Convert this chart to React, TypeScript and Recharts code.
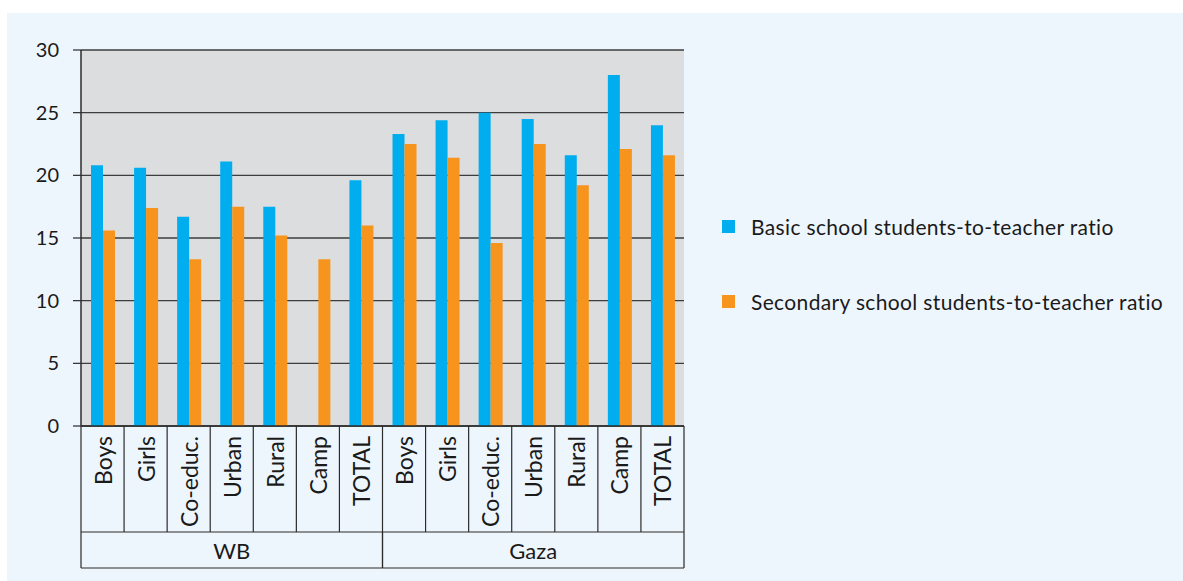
import { BarChart, Bar, XAxis, YAxis, CartesianGrid, Legend } from "recharts";

const categories = ["Boys", "Girls", "Co-educ.", "Urban", "Rural", "Camp", "TOTAL"];
const regions = ["WB", "Gaza"];
const basicWB = [20.8, 20.6, 16.7, 21.1, 17.5, null, 19.6];
const secondaryWB = [15.6, 17.4, 13.3, 17.5, 15.2, 13.3, 16.0];
const basicGaza = [23.3, 24.4, 25.0, 24.5, 21.6, 28.0, 24.0];
const secondaryGaza = [22.5, 21.4, 14.6, 22.5, 19.2, 22.1, 21.6];
const yTicks = [0, 5, 10, 15, 20, 25, 30];

const basicByRegion = [basicWB, basicGaza];
const secondaryByRegion = [secondaryWB, secondaryGaza];

const data = regions.flatMap((region, r) =>
  categories.map((cat, i) => ({
    id: `${region}-${cat}`,
    region,
    cat,
    basic: basicByRegion[r][i],
    secondary: secondaryByRegion[r][i],
  }))
);

const BLUE = "#00AEEF";
const ORANGE = "#F7941D";
const LINE = "#2b2b2b";
const TEXT = "#1a1a1a";
const FONT = "Lato, 'Open Sans', sans-serif";
const CAT_H = 106;
const GROUP_H = 36;

function CategoryTick(props: any) {
  const { x, y, payload, index } = props;
  const half = payload?.offset ?? 21.5;
  const row = data[index];
  return (
    <g>
      {index === 0 && <line x1={x - half} x2={x - half} y1={y} y2={y + CAT_H} stroke={LINE} strokeWidth={1.2} />}
      <line x1={x + half} x2={x + half} y1={y} y2={y + CAT_H} stroke={LINE} strokeWidth={1.2} />
      <text
        transform={`translate(${x},${y + 10}) rotate(-90)`}
        textAnchor="end"
        dominantBaseline="central"
        fontSize={23}
        fontFamily={FONT}
        fill={TEXT}
      >
        {row?.cat}
      </text>
    </g>
  );
}

function GroupTick(props: any) {
  const { x, y, payload, index } = props;
  const half = payload?.offset ?? 21.5;
  const row = data[index];
  if (!row || (index > 0 && data[index - 1].region === row.region)) return <g />;
  const count = data.filter((d) => d.region === row.region).length;
  const left = x - half;
  const right = left + count * half * 2;
  return (
    <g stroke={LINE} strokeWidth={1.2}>
      <line x1={left} x2={right} y1={y} y2={y} />
      <line x1={left} x2={right} y1={y + GROUP_H} y2={y + GROUP_H} />
      <line x1={left} x2={left} y1={y} y2={y + GROUP_H} />
      <line x1={right} x2={right} y1={y} y2={y + GROUP_H} />
      <text
        x={(left + right) / 2}
        y={y + GROUP_H / 2}
        textAnchor="middle"
        dominantBaseline="central"
        fontSize={22}
        fontFamily={FONT}
        fill={TEXT}
        stroke="none"
      >
        {row.region}
      </text>
    </g>
  );
}

function LegendBox({ payload }: any) {
  return (
    <div style={{ fontFamily: FONT, fontSize: 21, letterSpacing: 0.35, color: TEXT }}>
      {(payload || []).map((entry: any, i: number) => (
        <div
          key={entry.value}
          style={{ display: "flex", alignItems: "center", height: 28, marginTop: i === 0 ? 0 : 47 }}
        >
          <span style={{ width: 13, height: 13, background: entry.color, marginRight: 16, flexShrink: 0 }} />
          <span>{entry.value}</span>
        </div>
      ))}
    </div>
  );
}

export default function App() {
  return (
    <div style={{ position: "absolute", left: 0, top: 0, width: 1183, height: 581, background: "#ffffff" }}>
      <div style={{ position: "absolute", left: 7, top: 13, width: 1176, height: 568, background: "#EEF6FD" }}>
        <BarChart
          width={1176}
          height={568}
          data={data}
          margin={{ top: 37, right: 499, bottom: 13, left: 14 }}
          barGap={0}
          barSize={12}
        >
          <CartesianGrid vertical={false} stroke="#3d3d3d" strokeWidth={1.3} fill="#DCDDDF" />
          <XAxis
            xAxisId="cat"
            dataKey="id"
            interval={0}
            height={CAT_H}
            tickSize={0}
            tickMargin={0}
            tickLine={false}
            axisLine={{ stroke: LINE, strokeWidth: 1.5 }}
            tick={<CategoryTick />}
          />
          <XAxis
            xAxisId="grp"
            dataKey="id"
            interval={0}
            height={GROUP_H}
            tickSize={0}
            tickMargin={0}
            tickLine={false}
            axisLine={false}
            tick={<GroupTick />}
          />
          <YAxis
            width={60}
            domain={[0, 30]}
            ticks={yTicks}
            interval={0}
            tickSize={8}
            tickMargin={14}
            axisLine={{ stroke: LINE, strokeWidth: 1.5 }}
            tickLine={{ stroke: LINE, strokeWidth: 1.2 }}
            tick={{ fill: TEXT, fontSize: 20, fontFamily: FONT }}
          />
          <Legend
            layout="vertical"
            align="center"
            verticalAlign="middle"
            content={<LegendBox />}
            wrapperStyle={{ left: 715, top: 199, width: 460 }}
          />
          <Bar
            xAxisId="cat"
            dataKey="basic"
            name="Basic school students-to-teacher ratio"
            fill={BLUE}
            isAnimationActive={false}
          />
          <Bar
            xAxisId="cat"
            dataKey="secondary"
            name="Secondary school students-to-teacher ratio"
            fill={ORANGE}
            isAnimationActive={false}
          />
        </BarChart>
      </div>
    </div>
  );
}
